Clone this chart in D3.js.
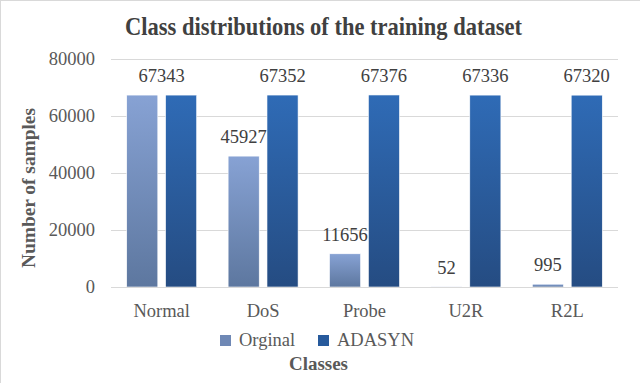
<!DOCTYPE html>
<html>
<head>
<meta charset="utf-8">
<script src="https://cdn.jsdelivr.net/npm/d3@7"></script>
<style>
  body { margin: 0; background: #fff; }
  text { font-family: "Liberation Serif", "Times New Roman", serif; }
</style>
</head>
<body>
<div id="chart"></div>
<script>
const width = 640, height = 383;

// data
const classes = ["Normal", "DoS", "Probe", "U2R", "R2L"];
const series = ["Orginal", "ADASYN"];
const original = [67343, 45927, 11656, 52, 995];
const adasyn = [67343, 67352, 67376, 67336, 67320];
const yTicks = [0, 20000, 40000, 60000, 80000];

const margin = {top: 59, right: 22, bottom: 96, left: 111};
const serif = "'Liberation Serif', 'Times New Roman', serif";

let svg = d3.select("#chart")
	.append("svg")
	.attr("width", width)
	.attr("height", height);

// gradients
let defs = svg.append("defs");
let g1 = defs.append("linearGradient").attr("id", "gOrig").attr("x1", 0).attr("y1", 0).attr("x2", 0).attr("y2", 1);
g1.append("stop").attr("offset", "0%").attr("stop-color", "#87a2d4");
g1.append("stop").attr("offset", "100%").attr("stop-color", "#5d779f");
let g2 = defs.append("linearGradient").attr("id", "gAda").attr("x1", 0).attr("y1", 0).attr("x2", 0).attr("y2", 1);
g2.append("stop").attr("offset", "0%").attr("stop-color", "#2f6bb6");
g2.append("stop").attr("offset", "100%").attr("stop-color", "#254c82");
const fills = ["url(#gOrig)", "url(#gAda)"];
const legendFills = ["#6f88b5", "#275a9c"];

// frame (top + left)
svg.append("line").attr("x1", 0).attr("x2", width).attr("y1", 0.5).attr("y2", 0.5).style("stroke", "#d9d9d9");
svg.append("line").attr("x1", 0.5).attr("x2", 0.5).attr("y1", 0).attr("y2", height).style("stroke", "#d9d9d9");

let x0 = d3.scaleBand()
	.domain(classes)
	.range([margin.left, width - margin.right])
	.paddingInner(0.31)
	.paddingOuter(0.155);

let x1 = d3.scaleBand()
	.domain(series)
	.range([0, x0.bandwidth()])
	.paddingInner(0.2);

let y = d3.scaleLinear()
	.domain([0, 80000])
	.range([height - margin.bottom, margin.top]);

// gridlines
svg.append("g")
	.selectAll("line")
	.data(yTicks)
	.enter()
	.append("line")
	.attr("x1", margin.left)
	.attr("x2", width - margin.right)
	.attr("y1", d => Math.round(y(d)) + 0.5)
	.attr("y2", d => Math.round(y(d)) + 0.5)
	.style("stroke", "#d9d9d9")
	.style("stroke-width", 1);

// y axis labels
let yAxis = svg.append("g")
	.attr("transform", "translate(" + (margin.left - 13) + ",0)")
	.call(d3.axisLeft(y).tickValues(yTicks).tickSize(0).tickFormat(d3.format("d")));
yAxis.select(".domain").remove();
yAxis.selectAll("text")
	.style("font-family", serif)
	.style("font-size", "18.5px")
	.style("fill", "#595959");

// bars
let groups = svg.append("g")
	.selectAll("g")
	.data(classes)
	.enter()
	.append("g")
	.attr("transform", d => "translate(" + x0(d) + ",0)");

groups.selectAll("rect")
	.data((d, i) => [
		{s: series[0], v: original[i], k: 0},
		{s: series[1], v: adasyn[i], k: 1}
	])
	.enter()
	.append("rect")
	.attr("x", d => x1(d.s))
	.attr("width", x1.bandwidth())
	.attr("y", d => y(d.v))
	.attr("height", d => y(0) - y(d.v))
	.style("fill", d => fills[d.k])
	.style("stroke", "#ffffff")
	.style("stroke-width", 0.6);

// value labels (normal: one label centred over the pair)
function valueLabel(g, x, v) {
	g.append("text")
		.attr("x", x)
		.attr("y", y(v) - 13)
		.attr("text-anchor", "middle")
		.style("font-family", serif)
		.style("font-size", "18.5px")
		.style("fill", "#404040")
		.text(v);
}

groups.each(function(d, i) {
	let g = d3.select(this);
	if (i == 0) {
		valueLabel(g, x0.bandwidth() / 2, original[i]);
	} else {
		valueLabel(g, x1(series[0]) + x1.bandwidth() / 2, original[i]);
		valueLabel(g, x1(series[1]) + x1.bandwidth() / 2, adasyn[i]);
	}
});

// x axis
svg.append("line")
	.attr("x1", margin.left)
	.attr("x2", width - margin.right)
	.attr("y1", y(0) + 0.5)
	.attr("y2", y(0) + 0.5)
	.style("stroke", "#d9d9d9");

let xAxis = svg.append("g")
	.attr("transform", "translate(0," + (y(0) + 9) + ")")
	.call(d3.axisBottom(x0).tickSize(0));
xAxis.select(".domain").remove();
xAxis.selectAll("text")
	.attr("dy", null)
	.attr("y", 21)
	.style("font-family", serif)
	.style("font-size", "18.5px")
	.style("fill", "#595959");

// legend
const legendX = [220, 318];
let legend = svg.append("g");
series.forEach((s, i) => {
	legend.append("rect")
		.attr("x", legendX[i])
		.attr("y", 335)
		.attr("width", 11)
		.attr("height", 11)
		.style("fill", legendFills[i]);
	legend.append("text")
		.attr("x", legendX[i] + 19)
		.attr("y", 346)
		.style("font-family", serif)
		.style("font-size", "18.5px")
		.style("fill", "#595959")
		.text(s);
});

// titles
svg.append("text")
	.attr("x", 125)
	.attr("y", 35)
	.attr("textLength", 397)
	.attr("lengthAdjust", "spacingAndGlyphs")
	.style("font-family", serif)
	.style("font-size", "25px")
	.style("font-weight", "bold")
	.style("fill", "#404040")
	.text("Class distributions of the training dataset");

svg.append("text")
	.attr("x", 289)
	.attr("y", 370)
	.attr("textLength", 59)
	.attr("lengthAdjust", "spacingAndGlyphs")
	.style("font-family", serif)
	.style("font-size", "18.5px")
	.style("font-weight", "bold")
	.style("fill", "#595959")
	.text("Classes");

svg.append("text")
	.attr("transform", "translate(35,268) rotate(-90)")
	.attr("textLength", 160)
	.attr("lengthAdjust", "spacingAndGlyphs")
	.style("font-family", serif)
	.style("font-size", "18.5px")
	.style("font-weight", "bold")
	.style("fill", "#595959")
	.text("Number of samples");
</script>
</body>
</html>
